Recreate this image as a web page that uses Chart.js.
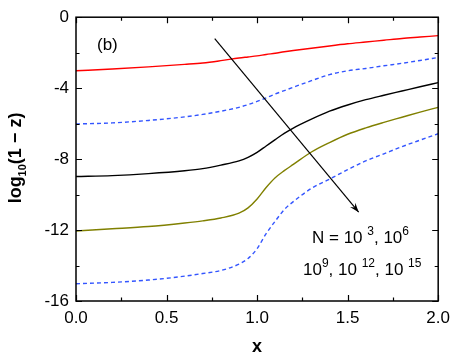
<!DOCTYPE html>
<html>
<head>
<meta charset="utf-8">
<script src="https://cdn.jsdelivr.net/npm/chart.js@4/dist/chart.umd.min.js"></script>
<style>
  html, body { margin: 0; padding: 0; background: #fff; }
  #wrap { width: 457px; height: 360px; }
</style>
</head>
<body>
<div id="wrap"><canvas id="c" width="457" height="360"></canvas></div>
<script>
// ---- data ----
const xs = [0, 0.2, 0.4, 0.6, 0.7, 0.8, 0.9, 0.95, 1.0, 1.05, 1.1, 1.15, 1.2, 1.3, 1.4, 1.5, 1.6, 1.7, 1.8, 1.9, 2.0];
const seriesN3  = [-3.02, -2.92, -2.80, -2.66, -2.58, -2.45, -2.30, -2.24, -2.18, -2.10, -2.03, -1.95, -1.88, -1.75, -1.62, -1.50, -1.40, -1.30, -1.20, -1.12, -1.04];
const seriesN6  = [-6.02, -5.96, -5.82, -5.62, -5.48, -5.30, -5.08, -4.93, -4.75, -4.55, -4.33, -4.14, -3.95, -3.58, -3.24, -3.02, -2.89, -2.74, -2.60, -2.44, -2.27];
const seriesN9  = [-8.98, -8.93, -8.82, -8.66, -8.54, -8.34, -8.10, -7.90, -7.62, -7.26, -6.90, -6.55, -6.25, -5.75, -5.30, -4.95, -4.65, -4.40, -4.16, -3.92, -3.69];
const seriesN12 = [-12.05, -11.93, -11.80, -11.60, -11.48, -11.32, -11.05, -10.75, -10.25, -9.60, -9.05, -8.65, -8.30, -7.60, -7.07, -6.60, -6.24, -5.93, -5.64, -5.35, -5.08];
const seriesN15 = [-15.03, -14.95, -14.82, -14.60, -14.45, -14.28, -13.92, -13.60, -13.05, -12.20, -11.50, -10.85, -10.40, -9.65, -9.13, -8.60, -8.10, -7.70, -7.30, -6.93, -6.57];
const xMajorTicks = [0, 0.5, 1.0, 1.5, 2.0];
const xMinorTicks = [0.25, 0.75, 1.25, 1.75];
const yMajorTicks = [0, -4, -8, -12, -16];
const yMinorTicks = [-2, -6, -10, -14];
const arrowFrom = [0.766, -1.21];
const arrowTo = [1.561, -10.99];

function pts(ys) { return xs.map((x, i) => ({ x: x, y: ys[i] })); }

const FONT = '"Liberation Sans", Arial, sans-serif';

const decorPlugin = {
  id: 'decor',
  afterDatasetsDraw(chart) {
    const ctx = chart.ctx;
    const xS = chart.scales.x, yS = chart.scales.y;
    const a = chart.chartArea;
    ctx.save();
    // frame
    ctx.strokeStyle = '#000';
    ctx.lineWidth = 1.5;
    ctx.strokeRect(a.left, a.top, a.right - a.left, a.bottom - a.top);
    // ticks (inward, all four sides)
    ctx.lineWidth = 1.2;
    ctx.beginPath();
    const tickX = (v, len) => {
      const p = Math.round(xS.getPixelForValue(v)) + 0.5;
      ctx.moveTo(p, a.bottom); ctx.lineTo(p, a.bottom - len);
      ctx.moveTo(p, a.top); ctx.lineTo(p, a.top + len);
    };
    const tickY = (v, len) => {
      const p = Math.round(yS.getPixelForValue(v)) + 0.5;
      ctx.moveTo(a.left, p); ctx.lineTo(a.left + len, p);
      ctx.moveTo(a.right, p); ctx.lineTo(a.right - len, p);
    };
    xMajorTicks.forEach(v => tickX(v, 6));
    xMinorTicks.forEach(v => tickX(v, 3.5));
    yMajorTicks.forEach(v => tickY(v, 6));
    yMinorTicks.forEach(v => tickY(v, 3.5));
    ctx.stroke();

    // arrow
    const x1 = xS.getPixelForValue(arrowFrom[0]), y1 = yS.getPixelForValue(arrowFrom[1]);
    const x2 = xS.getPixelForValue(arrowTo[0]), y2 = yS.getPixelForValue(arrowTo[1]);
    ctx.lineWidth = 1.2;
    ctx.beginPath(); ctx.moveTo(x1, y1); ctx.lineTo(x2, y2); ctx.stroke();
    const ang = Math.atan2(y2 - y1, x2 - x1);
    const hl = 10, hw = 0.35;
    ctx.beginPath();
    ctx.moveTo(x2, y2);
    ctx.lineTo(x2 - hl * Math.cos(ang - hw), y2 - hl * Math.sin(ang - hw));
    ctx.lineTo(x2 - hl * 0.6 * Math.cos(ang), y2 - hl * 0.6 * Math.sin(ang));
    ctx.lineTo(x2 - hl * Math.cos(ang + hw), y2 - hl * Math.sin(ang + hw));
    ctx.closePath();
    ctx.fillStyle = '#000';
    ctx.fill();

    // texts
    ctx.fillStyle = '#000';
    ctx.textBaseline = 'alphabetic';
    ctx.textAlign = 'left';
    ctx.font = '17px ' + FONT;
    ctx.fillText('(b)', 97, 50);

    // rich text helper: parts [text, isSup]
    const rich = (parts, x, y) => {
      let cx = x;
      parts.forEach(p => {
        if (p[1]) {
          ctx.font = '12px ' + FONT;
          ctx.fillText(p[0], cx, y - 8);
        } else {
          ctx.font = '17px ' + FONT;
          ctx.fillText(p[0], cx, y);
        }
        cx += ctx.measureText(p[0]).width;
      });
    };
    rich([['N = 10 ', 0], ['3', 1], [', 10', 0], ['6', 1]], 312, 243);
    rich([['10', 0], ['9', 1], [', 10 ', 0], ['12', 1], [', 10 ', 0], ['15', 1]], 303, 275);

    // x axis title
    ctx.font = 'bold 18px ' + FONT;
    ctx.textAlign = 'center';
    ctx.fillText('x', (a.left + a.right) / 2, 352);

    // y axis title (rotated)
    ctx.save();
    ctx.translate(21, 158);
    ctx.rotate(-Math.PI / 2);
    ctx.textAlign = 'left';
    const yparts = [['log', 'm'], ['10', 'sub'], ['(1 \u2212 z)', 'm']];
    let tw = 0;
    yparts.forEach(p => { ctx.font = (p[1] === 'sub' ? 'bold 11px ' : 'bold 18px ') + FONT; tw += ctx.measureText(p[0]).width; });
    let cx = -tw / 2;
    yparts.forEach(p => {
      if (p[1] === 'sub') { ctx.font = 'bold 11px ' + FONT; ctx.fillText(p[0], cx, 5); }
      else { ctx.font = 'bold 18px ' + FONT; ctx.fillText(p[0], cx, 0); }
      cx += ctx.measureText(p[0]).width;
    });
    ctx.restore();
    ctx.restore();
  }
};

const common = { fill: false, pointRadius: 0, borderWidth: 1.4, cubicInterpolationMode: 'monotone' };

new Chart(document.getElementById('c'), {
  type: 'line',
  data: {
    datasets: [
      Object.assign({ label: 'N=1e3', data: pts(seriesN3), borderColor: '#ff0000' }, common),
      Object.assign({ label: 'N=1e6', data: pts(seriesN6), borderColor: '#3355ff', borderDash: [4, 3] }, common),
      Object.assign({ label: 'N=1e9', data: pts(seriesN9), borderColor: '#000000' }, common),
      Object.assign({ label: 'N=1e12', data: pts(seriesN12), borderColor: '#808000' }, common),
      Object.assign({ label: 'N=1e15', data: pts(seriesN15), borderColor: '#3355ff', borderDash: [4, 3] }, common)
    ]
  },
  options: {
    responsive: false,
    animation: false,
    layout: { padding: { left: 0, top: 15, right: 17, bottom: 0 } },
    plugins: { legend: { display: false }, tooltip: { enabled: false } },
    scales: {
      x: {
        type: 'linear', min: 0, max: 2,
        afterBuildTicks: s => { s.ticks = xMajorTicks.map(v => ({ value: v })); },
        ticks: { callback: v => Number(v).toFixed(1), color: '#000', font: { size: 17, family: FONT }, padding: 7, maxRotation: 0 },
        grid: { display: false, drawTicks: false },
        border: { display: false },
        afterFit: s => { s.height = 59; }
      },
      y: {
        type: 'linear', min: -16, max: 0,
        afterBuildTicks: s => { s.ticks = yMajorTicks.map(v => ({ value: v })); },
        ticks: { callback: v => String(v), color: '#000', font: { size: 17, family: FONT }, padding: 7 },
        grid: { display: false, drawTicks: false },
        border: { display: false },
        afterFit: s => { s.width = 76; }
      }
    }
  },
  plugins: [decorPlugin]
});
</script>
</body>
</html>
